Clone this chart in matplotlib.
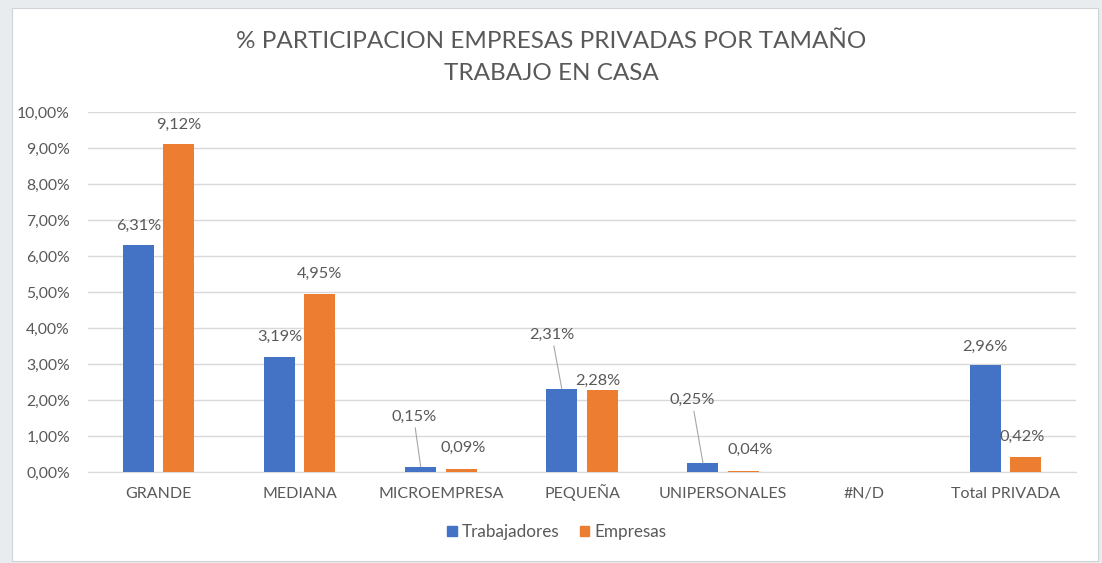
import matplotlib
matplotlib.use("Agg")
import matplotlib.pyplot as plt
from matplotlib.patches import Rectangle
from matplotlib.ticker import FuncFormatter
import numpy as np

categories = ["GRANDE", "MEDIANA", "MICROEMPRESA", "PEQUEÑA",
              "UNIPERSONALES", "#N/D", "Total PRIVADA"]
trabajadores = [6.31, 3.19, 0.15, 2.31, 0.25, None, 2.96]
empresas = [9.12, 4.95, 0.09, 2.28, 0.04, None, 0.42]
series_names = ["Trabajadores", "Empresas"]
title_lines = ["% PARTICIPACION EMPRESAS PRIVADAS POR TAMAÑO", "TRABAJO EN CASA"]

BLUE = "#4472C4"
ORANGE = "#ED7D31"
TEXT = "#595959"
GRID = "#D9D9D9"
FONT = ["Lato", "DejaVu Sans"]

W, H = 1102, 563
fig = plt.figure(figsize=(W / 100, H / 100), dpi=100)
fig.patch.set_facecolor("#E9ECEF")

# white chart card behind everything
fig.patches.append(Rectangle((12 / W, (H - 561) / H), (1098 - 12) / W, (561 - 8) / H,
                             transform=fig.transFigure, facecolor="white",
                             edgecolor="#D0D4D8", linewidth=0.8, zorder=-5))

# plot area in pixel terms
x0, x1 = 88, 1076
ytop, ybot = 112, 472
ax = fig.add_axes([x0 / W, (H - ybot) / H, (x1 - x0) / W, (ybot - ytop) / H])
ax.set_facecolor("none")

n = len(categories)
x = np.arange(n)
bw = 0.22
off = 0.143

def vals(seq):
    return np.array([np.nan if v is None else v for v in seq])

t = vals(trabajadores)
e = vals(empresas)
ax.bar(x - off, t, bw, color=BLUE, zorder=3)
ax.bar(x + off, e, bw, color=ORANGE, zorder=3)

ax.set_xlim(-0.5, n - 0.5)
ax.set_ylim(0, 10)
ax.set_yticks(np.arange(0, 11, 1))
ax.yaxis.set_major_formatter(FuncFormatter(lambda v, p: f"{v:.2f}%".replace(".", ",")))
ax.grid(axis="y", color=GRID, linewidth=1, zorder=0)
ax.set_xticks(x)
ax.set_xticklabels(categories)
for s in ax.spines.values():
    s.set_visible(False)
ax.spines["bottom"].set_visible(True)
ax.spines["bottom"].set_color(GRID)
ax.tick_params(axis="both", length=0, colors=TEXT)
ax.tick_params(axis="x", pad=18.5, labelsize=11.5)
ax.tick_params(axis="y", pad=13, labelsize=11.3)
for lbl in ax.get_xticklabels():
    lbl.set_family(FONT)
    lbl.set_verticalalignment("baseline")
for lbl in ax.get_yticklabels():
    lbl.set_family(FONT)

# data labels: (dx, dy) offsets in pixels from the top-centre of each bar
t_offsets = [(0, 19), (0, 20), (-7, 50), (-10, 54), (-11, 63), None, (0, 19)]
e_offsets = [(0, 19), (0, 20), (2, 21), (-4, 9), (7, 21), None, (-3, 20)]

def label(xc, v, o):
    if v is None or o is None:
        return
    txt = f"{v:.2f}%".replace(".", ",")
    leader = o[1] > 35
    ax.annotate(txt, xy=(xc, v), xytext=o, textcoords="offset pixels",
                ha="center", va="center", color=TEXT, fontsize=11.8, family=FONT,
                zorder=5,
                arrowprops=dict(arrowstyle="-", color="#A6A6A6", lw=0.8,
                                shrinkA=1, shrinkB=0) if leader else None)

for i in range(n):
    label(x[i] - off, trabajadores[i], t_offsets[i])
    label(x[i] + off, empresas[i], e_offsets[i])

fig.text(0.5, 1 - 42 / H, title_lines[0], ha="center", va="center",
         fontsize=17.5, color=TEXT, family=FONT)
fig.text(0.5, 1 - 74 / H, title_lines[1], ha="center", va="center",
         fontsize=17.5, color=TEXT, family=FONT)

handles = [Rectangle((0, 0), 1, 1, color=BLUE), Rectangle((0, 0), 1, 1, color=ORANGE)]
leg = fig.legend(handles, series_names, loc="center", bbox_to_anchor=(557 / W, 1 - 532 / H),
                 ncol=2, frameon=False, handlelength=0.55, handleheight=0.55,
                 handletextpad=0.3, columnspacing=1.2,
                 prop=dict(family=FONT, size=12.3))
for tx in leg.get_texts():
    tx.set_color(TEXT)

fig.savefig("out.png", dpi=100, facecolor=fig.get_facecolor())
